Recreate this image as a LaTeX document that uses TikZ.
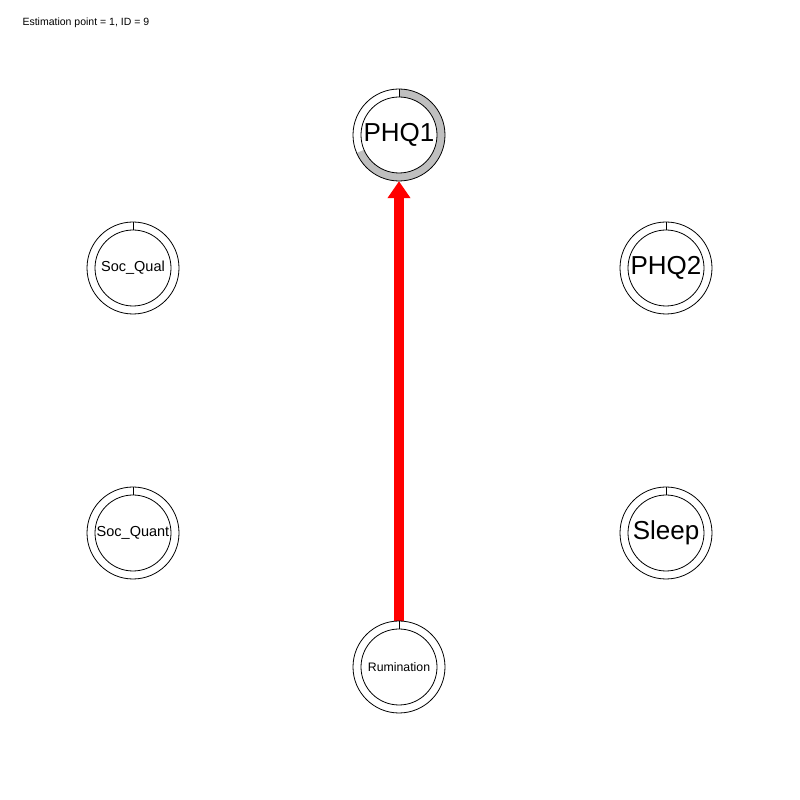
\documentclass[tikz,border=0pt]{standalone}
\usepackage{fontspec}
\setmainfont{Liberation Sans}
\usetikzlibrary{arrows.meta}

\begin{document}
\begin{tikzpicture}[x=1pt,y=1pt,
    var/.style={circle, minimum size=92pt, inner sep=0pt, align=center},
    big/.style={font=\fontsize{26}{28}\selectfont},
    mid/.style={font=\fontsize{14.5}{16}\selectfont},
    small/.style={font=\fontsize{12.3}{14}\selectfont},
    ring/.style={line width=0.8pt},
    pie/.style={fill=gray!50},
    edge/.style={draw=red, line width=10pt, -{Triangle[width=22pt,length=17pt]}}]

\useasboundingbox[fill=white] (0,0) rectangle (800,800);

\node[anchor=base west, font=\fontsize{10.5}{12}\selectfont] (title) at (19,774) {Estimation point = 1, ID = 9};

\node[var, big] (PHQ1) at (399,665) {PHQ1};
\node[var, mid] (SocQual) at (133,532) {Soc\_Qual};
\node[var, big] (PHQ2) at (666,532) {PHQ2};
\node[var, mid] (SocQuant) at (133,267) {Soc\_Quant};
\node[var, big] (Sleep) at (666,267) {Sleep};
\node[var, small] (Rumination) at (399,133) {Rumination};

\draw[edge] (Rumination) -- (PHQ1);

% pie of PHQ1
\fill[pie] (PHQ1.center) ++(90:46) arc[start angle=90, end angle=-157, radius=46]
    -- ++(23:8) arc[start angle=-157, end angle=90, radius=38] -- cycle;

\foreach \n in {PHQ1,SocQual,PHQ2,SocQuant,Sleep,Rumination} {
    \draw[ring] (\n.center) circle[radius=46];
    \draw[ring] (\n.center) circle[radius=38];
    \draw[ring] (\n.center) ++(0,38) -- ++(0,8);
}

\end{tikzpicture}
\end{document}
